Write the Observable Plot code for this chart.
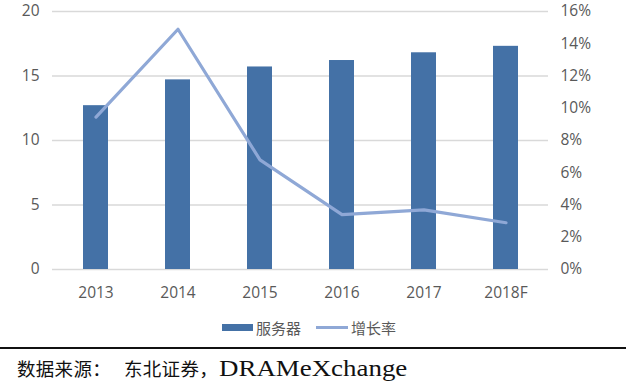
<!DOCTYPE html>
<html>
<head>
<meta charset="utf-8">
<script src="https://cdn.jsdelivr.net/npm/d3@7"></script>
<script src="https://cdn.jsdelivr.net/npm/@observablehq/plot@0.6"></script>
<style>
  body { margin: 0; background: #fff; width: 640px; height: 382px; overflow: hidden; position: relative; font-family: "Open Sans", "Noto Sans CJK SC", sans-serif; }
  #chart svg { display: block; }
  .legend { position: absolute; top: 317px; left: 222px; display: flex; align-items: center; font-family: "Noto Sans CJK SC", sans-serif; font-size: 15px; color: #595959; }
  .legend .sw-bar { width: 31px; height: 7px; background: #4471A6; margin-right: 3px; }
  .legend .sw-line { width: 32px; height: 3px; background: #8FA8D6; margin-right: 3px; margin-left: 15px; }
  .rule { position: absolute; top: 347px; left: 0; width: 626px; height: 2px; background: #111; }
  .cap { position: absolute; top: 359px; color: #111; white-space: nowrap; line-height: 1; }
  .cn { font-family: "Noto Sans CJK SC", serif; font-size: 18.5px; letter-spacing: 0.3px; }
  .en { font-family: "Liberation Serif", serif; font-size: 23px; top: 357px; transform: scaleX(1.17); transform-origin: left center; }
</style>
</head>
<body>
<div id="chart"></div>
<div class="legend"><span class="sw-bar"></span><span>服务器</span><span class="sw-line"></span><span>增长率</span></div>
<div class="rule"></div>
<div class="cap cn" style="left:17px">数据来源：</div>
<div class="cap cn" style="left:124px">东北证券，</div>
<div class="cap en" style="left:219px">DRAMeXchange</div>
<script>
const years = ["2013", "2014", "2015", "2016", "2017", "2018F"];
const servers = [12.7, 14.7, 15.7, 16.2, 16.8, 17.3];
const growth = [9.45, 14.9, 6.8, 3.4, 3.7, 2.9];
const leftTicks = [0, 5, 10, 15, 20];
const rightTicks = [0, 2, 4, 6, 8, 10, 12, 14, 16];

const ratio = 20 / 16;
const data = years.map((y, i) => ({year: y, servers: servers[i], growth: growth[i]}));

const chart = Plot.plot({
  width: 640,
  height: 305,
  marginTop: 11,
  marginBottom: 36,
  marginLeft: 52,
  marginRight: 92,
  style: {fontFamily: "Open Sans, sans-serif", fontSize: "15.5px", color: "#595959", background: "#fff"},
  x: {domain: years, paddingInner: 0.7, paddingOuter: 0.35, label: null},
  y: {domain: [0, 20], label: null},
  marks: [
    Plot.gridY(leftTicks, {stroke: "#d9d9d9", strokeOpacity: 1, strokeWidth: 1.5}),
    Plot.axisY(leftTicks, {anchor: "left", tickSize: 0, tickPadding: 13, label: null, fill: "#595959"}),
    Plot.axisY(rightTicks.map(d => d * ratio), {anchor: "right", tickSize: 0, tickPadding: 12, label: null, fill: "#595959", tickFormat: d => Math.round(d / ratio) + "%", textAnchor: "start"}),
    Plot.axisX({tickSize: 0, tickPadding: 17, label: null, fill: "#595959"}),
    Plot.barY(data, {x: "year", y: "servers", fill: "#4471A6"}),
    Plot.lineY(data, {x: "year", y: d => d.growth * ratio, stroke: "#8FA8D6", strokeWidth: 3.2})
  ]
});
document.getElementById("chart").appendChild(chart);
</script>
</body>
</html>
